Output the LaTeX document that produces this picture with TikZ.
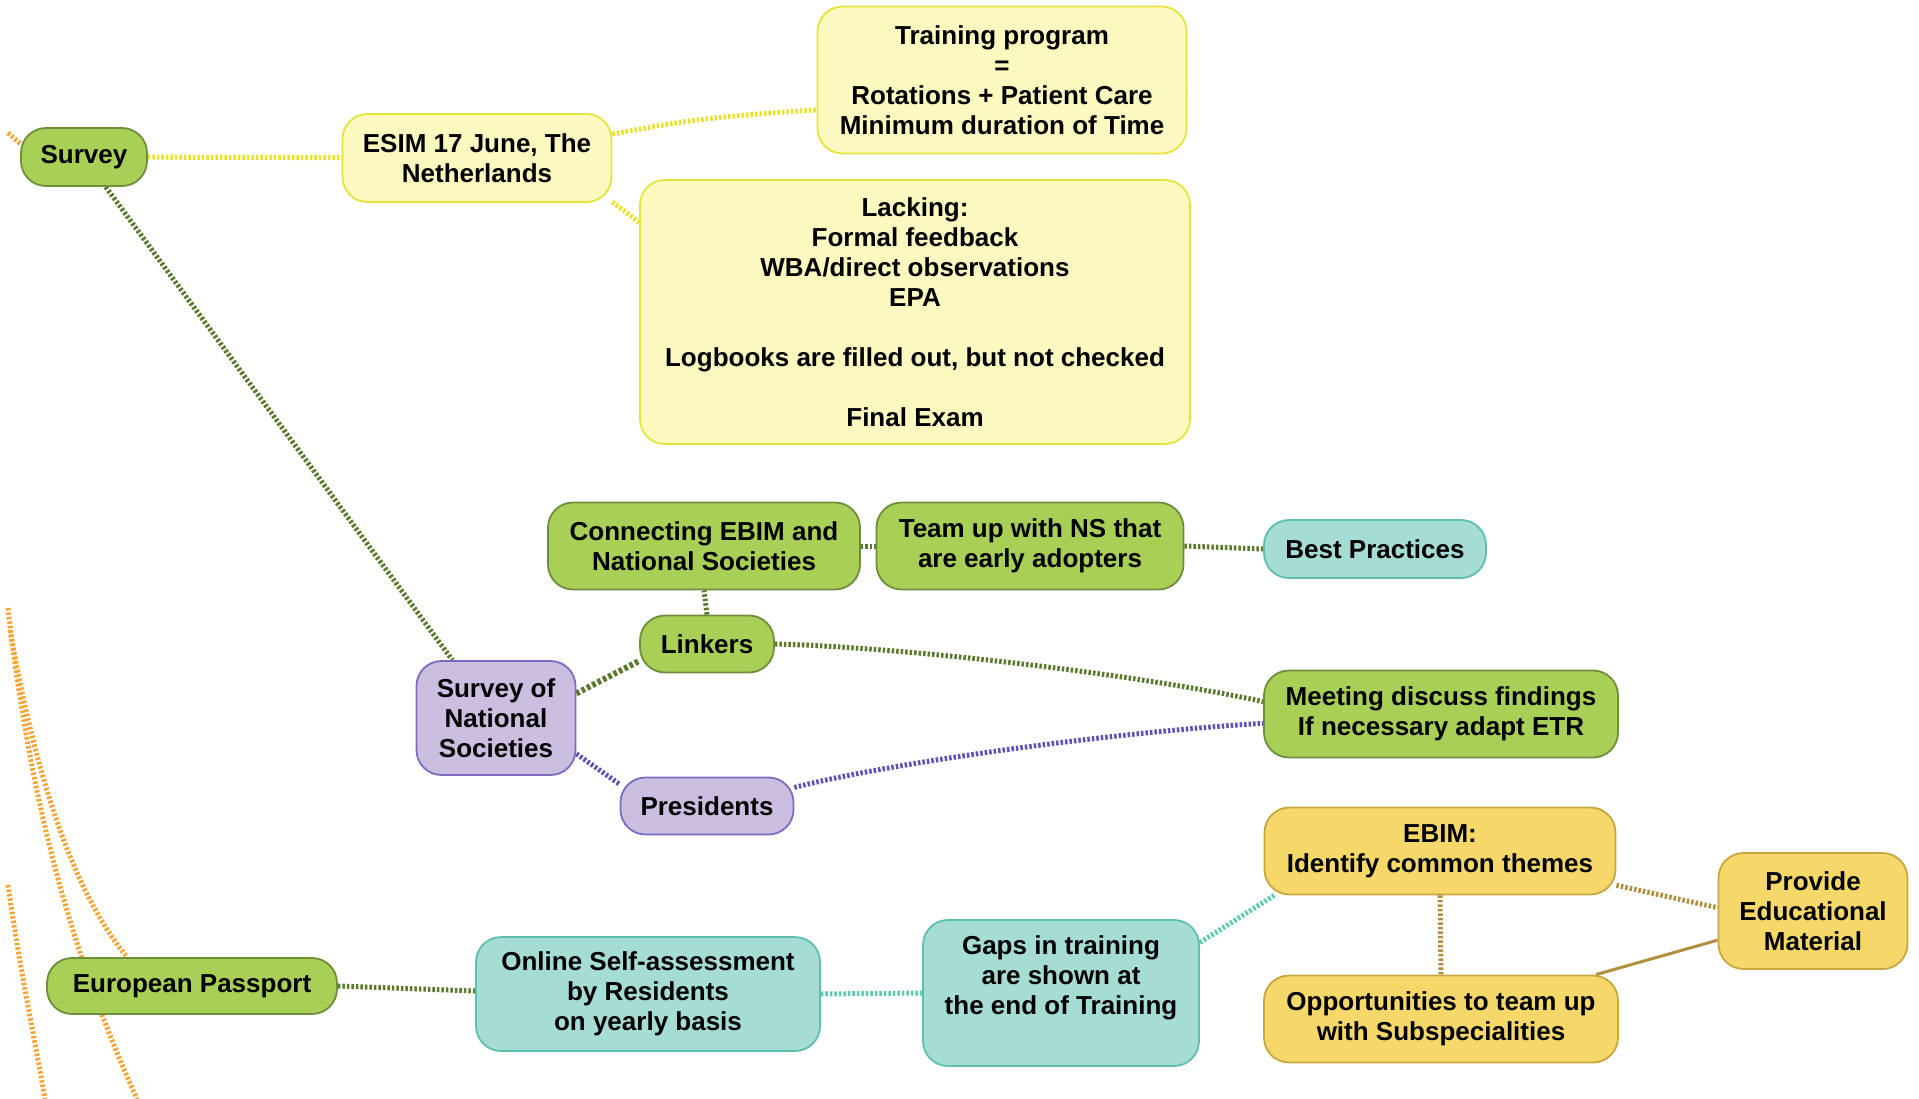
\documentclass[tikz,border=0pt]{standalone}
\usepackage{fontspec}
\setmainfont{Liberation Sans}
\usetikzlibrary{backgrounds}
\definecolor{gfill}{HTML}{A8D057}
\definecolor{gdraw}{HTML}{6E8E3C}
\definecolor{yfill}{HTML}{FBF9C0}
\definecolor{ydraw}{HTML}{E6E43A}
\definecolor{pfill}{HTML}{CCBEE0}
\definecolor{pdraw}{HTML}{7C6CC0}
\definecolor{tfill}{HTML}{A5DCD3}
\definecolor{tdraw}{HTML}{5EBFAE}
\definecolor{ofill}{HTML}{F6D86A}
\definecolor{odraw}{HTML}{C8A640}
\definecolor{cgreen}{HTML}{5B7A2E}
\definecolor{cyellow}{HTML}{E9E227}
\definecolor{cblue}{HTML}{5B53B5}
\definecolor{cteal}{HTML}{5CC9B3}
\definecolor{cbrown}{HTML}{B08F3E}
\definecolor{corange}{HTML}{F7A535}
\tikzset{
  box/.style={rounded corners=25pt, line width=1.8pt, align=center, inner sep=0pt,
    font=\bfseries\fontsize{26}{30}\selectfont},
  gbox/.style={box, fill=gfill, draw=gdraw},
  ybox/.style={box, fill=yfill, draw=ydraw},
  pbox/.style={box, fill=pfill, draw=pdraw},
  tbox/.style={box, fill=tfill, draw=tdraw},
  obox/.style={box, fill=ofill, draw=odraw},
  txt/.style={align=center, inner sep=0pt, font=\bfseries\fontsize{26}{30}\selectfont},
  dots/.style={line width=5pt, dash pattern=on 2.5pt off 2pt},
  gline/.style={dots, draw=cgreen},
  yline/.style={dots, draw=cyellow},
  bline/.style={dots, draw=cblue},
  tline/.style={dots, draw=cteal},
  brline/.style={dots, draw=cbrown},
  oline/.style={dots, draw=corange},
}
\begin{document}
\begin{tikzpicture}[x=1pt,y=-1pt]
\useasboundingbox (0,0) rectangle (1919,1099);

\node[gbox, minimum width=126, minimum height=58] (survey) at (84,157) {Survey};
\node[ybox, minimum width=269, minimum height=88] (esim) at (477,158) {ESIM 17 June, The\\Netherlands};
\node[ybox, minimum width=369, minimum height=147] (train) at (1002,80) {Training program\\=\\Rotations + Patient Care\\Minimum duration of Time};
\node[ybox, minimum width=550, minimum height=264] (lack) at (915,312) {Lacking:\\Formal feedback\\WBA/direct observations\\EPA\\[30pt]Logbooks are filled out, but not checked\\[30pt]Final Exam};
\node[gbox, minimum width=312, minimum height=87] (conn) at (704,546) {Connecting EBIM and\\National Societies};
\node[gbox, minimum width=307, minimum height=87] (team) at (1030,546) {Team up with NS that\\are early adopters};
\node[tbox, minimum width=222, minimum height=58] (best) at (1375,549) {Best Practices};
\node[gbox, minimum width=134, minimum height=57] (link) at (707,644) {Linkers};
\node[pbox, minimum width=159, minimum height=114] (sns) at (496,718) {Survey of\\National\\Societies};
\node[pbox, minimum width=173, minimum height=57] (pres) at (707,806) {Presidents};
\node[gbox, minimum width=354, minimum height=87] (meet) at (1441,714) {Meeting discuss findings\\If necessary adapt ETR};
\node[obox, minimum width=351, minimum height=87] (ebim) at (1440,851) {EBIM:\\Identify common themes};
\node[obox, minimum width=189, minimum height=116] (prov) at (1813,911) {Provide\\Educational\\Material};
\node[obox, minimum width=354, minimum height=87] (opp) at (1441,1019) {Opportunities to team up\\with Subspecialities};
\node[tbox, minimum width=276, minimum height=146] (gaps) at (1061,993) {};
\node[txt] (gapst) at (1061,978) {Gaps in training\\are shown at\\the end of Training};
\node[tbox, minimum width=344, minimum height=114] (online) at (648,994) {Online Self-assessment\\by Residents\\on yearly basis};
\node[gbox, minimum width=290, minimum height=56] (euro) at (192,986) {European Passport};

\coordinate (o1a) at (8,608);
\coordinate (o1b) at (137,1099);
\coordinate (o2a) at (10,630);
\coordinate (o3a) at (8,885);
\coordinate (o3b) at (45,1099);
\coordinate (o4a) at (8,133);

\begin{pgfonlayer}{background}
\fill[white] (0,0) rectangle (1919,1099);
\draw[oline] (o1a) .. controls (30,800) and (70,950) .. (o1b);
\draw[oline] (o2a) .. controls (40,800) and (80,900) .. (euro.156);
\draw[oline] (o3a) .. controls (20,970) and (35,1040) .. (o3b);
\draw[oline] (o4a) -- (survey.168);

\draw[yline] (survey) -- (esim);
\draw[yline] (esim.10) .. controls (720,114) .. (train.-3);
\draw[yline] (esim.-18) -- (lack.162);

\draw[gline] (survey.-54) -- (sns.127);
\draw[gline, line width=6pt, dash pattern=on 3.5pt off 2.5pt] (sns.17) -- (link.194);
\draw[gline] (link.north) -- (conn.south);
\draw[gline] (conn.east) -- (team.west);
\draw[gline] (team.east) -- (best.west);
\draw[gline] (link.east) .. controls (900,647) and (1130,673) .. (meet.176);

\draw[bline] (sns.-24) -- (pres.166);
\draw[bline] (pres.12) .. controls (880,765) and (1100,733) .. (meet.183);

\draw[gline] (euro.east) -- (online.179);
\draw[tline] (online.east) -- (gaps.west);
\draw[tline] (gaps.20) -- (ebim.195);
\draw[brline] (ebim.-11) -- (prov.178);
\draw[brline] (ebim.south) -- (opp.north);
\draw[cbrown, line width=3pt] (opp.16) -- (prov.197);
\end{pgfonlayer}
\end{tikzpicture}
\end{document}
